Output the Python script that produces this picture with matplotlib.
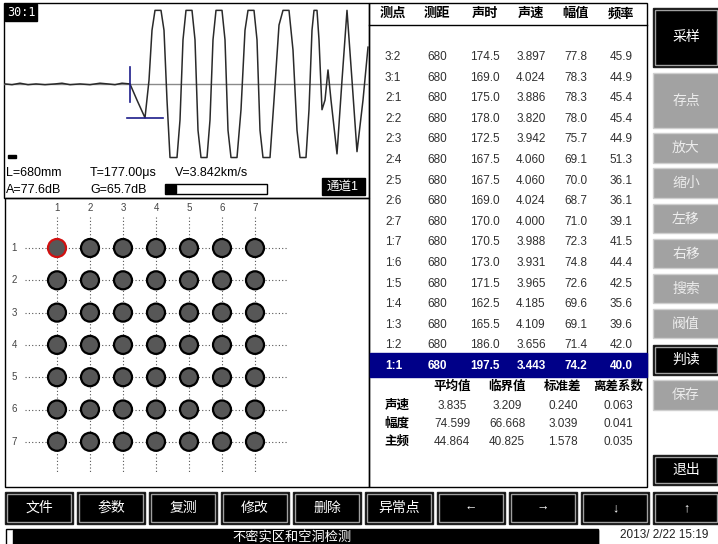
import matplotlib.pyplot as plt
from matplotlib.patches import Rectangle, Circle

plt.rcParams['font.family'] = ['Liberation Sans', 'Noto Sans CJK SC', 'DejaVu Sans']

# waveform (sample index, amplitude in % of full scale)
wave_t = [1, 8, 16, 24, 32, 41, 51, 58, 66, 76, 86, 96, 104, 111, 118, 126,
          133, 141, 145, 148, 151, 157, 160, 163, 166, 173, 176, 179, 182, 188,
          191, 194, 197, 203, 206, 209, 212, 218, 221, 224, 227, 233, 237, 241,
          244, 250, 253, 256, 259, 266, 270, 275, 279, 285, 289, 293, 296, 302,
          305, 308, 310, 313, 315, 318, 321, 324, 327, 333, 338, 343, 348, 353,
          359, 364]
wave_a = [0, -1, 1, -1, 0, -1, 0, 1, -1, 0, -1, 1, 0, -1, 1, 0,
          -22, -46, 5, 73, 100, 100, 73, -22, -100, -100, -49, 60, 100, 100,
          60, -63, -100, -100, -49, 60, 100, 100, 60, -63, -100, -100, -35, 73,
          100, 100, 60, -63, -100, -100, -22, 80, 100, 100, 46, -63, -100, -100,
          -35, 73, 100, 100, 60, -35, -22, 19, -22, -95, 5, 100, 5, -92,
          -22, 50]
cursor_t = 126
first_peak = -46

info = ['L=680mm', 'T=177.00μs', 'V=3.842km/s', 'A=77.6dB', 'G=65.7dB']

# table
headers = ['测点', '测距', '声时', '声速', '幅值', '频率']
points = ['3:2', '3:1', '2:1', '2:2', '2:3', '2:4', '2:5', '2:6', '2:7',
          '1:7', '1:6', '1:5', '1:4', '1:3', '1:2', '1:1']
dist = [680, 680, 680, 680, 680, 680, 680, 680, 680, 680, 680, 680, 680, 680, 680, 680]
times = [174.5, 169.0, 175.0, 178.0, 172.5, 167.5, 167.5, 169.0, 170.0,
         170.5, 173.0, 171.5, 162.5, 165.5, 186.0, 197.5]
speeds = [3.897, 4.024, 3.886, 3.820, 3.942, 4.060, 4.060, 4.024, 4.000,
          3.988, 3.931, 3.965, 4.185, 4.109, 3.656, 3.443]
amps = [77.8, 78.3, 78.3, 78.0, 75.7, 69.1, 70.0, 68.7, 71.0,
        72.3, 74.8, 72.6, 69.6, 69.1, 71.4, 74.2]
freqs = [45.9, 44.9, 45.4, 45.4, 44.9, 51.3, 36.1, 36.1, 39.1,
         41.5, 44.4, 42.5, 35.6, 39.6, 42.0, 40.0]

stat_cols = ['平均值', '临界值', '标准差', '离差系数']
stat_rows = ['声速', '幅度', '主频']
stat_vals = [['3.835', '3.209', '0.240', '0.063'],
             ['74.599', '66.668', '3.039', '0.041'],
             ['44.864', '40.825', '1.578', '0.035']]

n_grid = 7
side_labels = ['采样', '存点', '放大', '缩小', '左移', '右移', '搜索', '阀值', '判读', '保存', '退出']
side_active = [True, False, False, False, False, False, False, False, True, False, True]
bottom_labels = ['文件', '参数', '复测', '修改', '删除', '异常点', '←', '→', '↓', '↑']

fig = plt.figure(figsize=(7.18, 5.44), dpi=100)
ui = fig.add_axes([0, 0, 1, 1])
ui.set_xlim(0, 718)
ui.set_ylim(544, 0)
ui.axis('off')

# panel frames
ui.add_patch(Rectangle((4, 3), 365, 195, fill=False, ec='black', lw=1))
ui.add_patch(Rectangle((5, 198), 364, 289, fill=False, ec='black', lw=1))
ui.add_patch(Rectangle((369, 3), 278, 484, fill=False, ec='black', lw=1))
ui.plot([369, 647], [25, 25], color='black', lw=1)

# waveform panel
ui.add_patch(Rectangle((5, 4), 32, 17, color='black'))
ui.text(21, 12.5, '30:1', color='white', fontsize=8.5, family='DejaVu Sans Mono',
        ha='center', va='center')
ui.add_patch(Rectangle((8, 155), 8, 3, color='black'))
ui.text(6, 173, info[0], fontsize=9, va='center')
ui.text(90, 173, info[1], fontsize=9, va='center')
ui.text(175, 173, info[2], fontsize=9, va='center')
ui.text(6, 190, info[3], fontsize=9, va='center')
ui.text(90, 190, info[4], fontsize=9, va='center')
ui.add_patch(Rectangle((165, 184), 102, 10, fc='white', ec='black', lw=1))
ui.add_patch(Rectangle((166, 185), 10, 8, color='black'))
ui.add_patch(Rectangle((322, 178), 43, 17, color='black'))
ui.text(343, 186.5, '通道1', color='white', fontsize=9, ha='center', va='center')

wv = fig.add_axes([4 / 718, (544 - 198) / 544, 365 / 718, 195 / 544])
wv.set_xlim(0, 365)
wv.set_ylim(-155, 110)
wv.axis('off')
wv.patch.set_visible(False)
wv.axhline(0, color='#8a8a8a', lw=1)
wv.plot(wave_t, wave_a, color='#2a2a2a', lw=1.1)
wv.plot([cursor_t, cursor_t], [23, -24], color='#1c1c8a', lw=1.2)
wv.plot([cursor_t - 3, cursor_t + 33], [first_peak, first_peak], color='#1c1c8a', lw=1.2)

# measuring grid
col_x = [57 + 33 * i for i in range(n_grid)]
row_y = [248 + 32.3 * j for j in range(n_grid)]
for i in range(n_grid):
    ui.text(col_x[i], 208, str(i + 1), fontsize=7, color='#444444', ha='center', va='center')
    ui.plot([col_x[i], col_x[i]], [217, 472], color='#555555', lw=0.8, ls=(0, (1, 2)))
for j in range(n_grid):
    ui.text(14, row_y[j], str(j + 1), fontsize=7, color='#444444', ha='center', va='center')
    ui.plot([25, 288], [row_y[j], row_y[j]], color='#555555', lw=0.8, ls=(0, (1, 2)))
for j in range(n_grid):
    for i in range(n_grid):
        ec = '#d01010' if (i == 0 and j == 0) else 'black'
        ui.add_patch(Circle((col_x[i], row_y[j]), 9, fc='#575757', ec=ec, lw=1.6, zorder=3))

# data table
hx = [393, 437, 485, 531, 576, 621]
for k, h in enumerate(headers):
    ui.text(hx[k], 14, h, fontsize=9.5, fontweight='bold', ha='center', va='center')
for r in range(len(points)):
    y = 57 + 20.6 * r
    col = '#303030'
    fw = 'normal'
    if r == len(points) - 1:
        ui.add_patch(Rectangle((370, y - 13), 277, 24, color='#000088'))
        col = 'white'
        fw = 'bold'
    vals = [str(dist[r]), f'{times[r]:.1f}', f'{speeds[r]:.3f}', f'{amps[r]:.1f}', f'{freqs[r]:.1f}']
    ui.text(385, y, points[r], fontsize=8.5, color=col, fontweight=fw, va='center')
    for k, v in enumerate(vals):
        ui.text(hx[k + 1], y, v, fontsize=8.5, color=col, fontweight=fw, ha='center', va='center')

sx = [452, 507, 563, 618]
for k, h in enumerate(stat_cols):
    ui.text(sx[k], 387, h, fontsize=9, fontweight='bold', ha='center', va='center')
for r, name in enumerate(stat_rows):
    y = 406 + 18 * r
    ui.text(397, y, name, fontsize=9, fontweight='bold', ha='center', va='center')
    for k, v in enumerate(stat_vals[r]):
        ui.text(sx[k], y, v, fontsize=8.5, color='#303030', ha='center', va='center')


def button(x, y, w, h, label, active, size=10):
    if active:
        ui.add_patch(Rectangle((x, y), w, h, fc='black', ec='#202020', lw=1))
        ui.add_patch(Rectangle((x + 2, y + 2), w - 4, h - 4, fill=False, ec='#a0a0a0', lw=1))
        tc = 'white'
    else:
        ui.add_patch(Rectangle((x, y), w, h, fc='#a2a2a2', ec='#cfcfcf', lw=1))
        tc = '#ececec'
    ui.text(x + w / 2, y + h / 2, label, color=tc, fontsize=size, ha='center', va='center')


side_tops = [8, 73, 133, 168, 204, 239, 274, 309, 345, 380, 455]
side_bots = [67, 128, 163, 198, 233, 268, 303, 338, 375, 410, 485]
for k, lab in enumerate(side_labels):
    button(653, side_tops[k], 66, side_bots[k] - side_tops[k], lab, side_active[k])

for k, lab in enumerate(bottom_labels):
    button(5 + 72 * k, 492, 68 if k < 9 else 66, 32, lab, True, size=10 if k < 6 else 9)

# status bar
ui.add_patch(Rectangle((6, 529), 592, 17, fc='white', ec='black', lw=1))
ui.add_patch(Rectangle((13, 530), 585, 15, color='black'))
ui.text(292, 537, '不密实区和空洞检测', color='white', fontsize=9.5, ha='center', va='center')
ui.text(664, 535, '2013/ 2/22 15:19', fontsize=8.5, ha='center', va='center', color='#202020')

fig.savefig('out.png', dpi=100)
